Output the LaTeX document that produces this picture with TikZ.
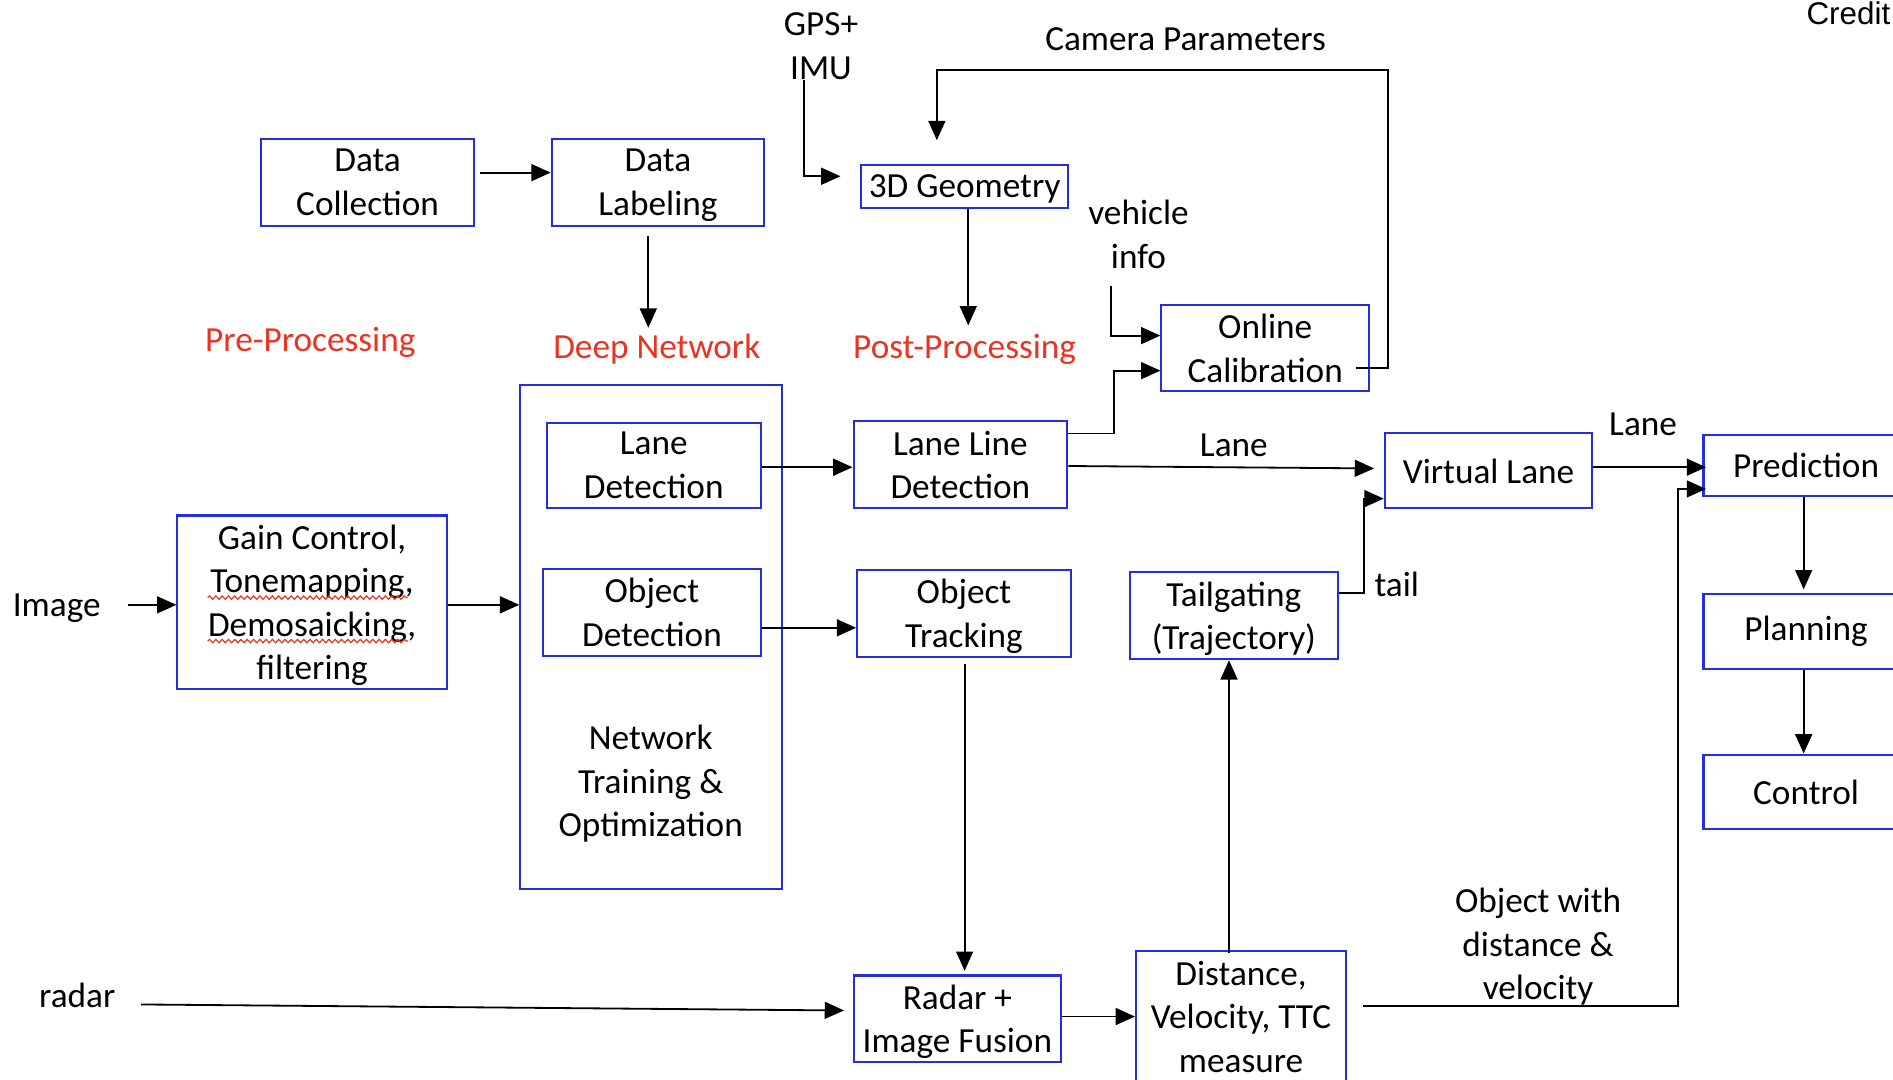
\documentclass[tikz,border=0pt]{standalone}
\usepackage{fontspec}
\setmainfont{Carlito}
\newfontfamily\arialf{Liberation Sans}
\usetikzlibrary{arrows.meta,calc,decorations.pathmorphing}
\definecolor{boxblue}{RGB}{35,45,225}
\definecolor{capred}{RGB}{234,51,35}
\begin{document}
\begin{tikzpicture}[x=0.5pt,y=-0.5pt,
  every node/.style={font=\fontsize{14.6pt}{18pt}\selectfont, align=center, inner sep=0pt, text depth=0pt},
  box/.style={draw=boxblue, line width=0.85pt},
  redlbl/.style={text=capred},
  arr/.style={draw=black, line width=0.75pt, -{Triangle[length=8pt,width=7pt]}},
  wavy/.style={draw=capred, line width=0.5pt, decorate, decoration={snake, amplitude=0.7pt, segment length=2.6pt}}]
\useasboundingbox (0,0) rectangle (1568,894);

% boxes
\node[box, minimum width=88.5pt, minimum height=36pt] (dc) at (304.5,151) {Data\\Collection};
\node[box, minimum width=88pt, minimum height=36pt] (dl) at (545,151) {Data\\Labeling};
\node[box, minimum width=86pt, minimum height=17.5pt] (geo) at (799,154.5) {3D Geometry};
\node[box, minimum width=86pt, minimum height=35.5pt] (oc) at (1048,288.5) {Online\\Calibration};
\node[box, minimum width=88.5pt, minimum height=36pt] (ll) at (795.5,385) {Lane Line\\Detection};
\node[box, minimum width=86pt, minimum height=31pt] (vl) at (1233,390) {Virtual Lane};
\node[box, minimum width=86pt, minimum height=36pt] (tg) at (1022,510) {Tailgating\\(Trajectory)};
\node[box, minimum width=85pt, minimum height=25.5pt] (pred) at (1496,385.5) {Prediction};
\node[box, minimum width=85pt, minimum height=31pt, text depth=2.9pt] (plan) at (1496,523) {Planning};
\node[box, minimum width=85pt, minimum height=31pt] (ctrl) at (1496,656) {Control};
\node[box, minimum width=108.5pt, minimum height=208.5pt] (dn) at (539.5,527.5) {};
\node[box, minimum width=88.5pt, minimum height=35.5pt] (lane) at (541.5,385.5) {Lane\\Detection};
\node[box, minimum width=90pt, minimum height=36pt] (obj) at (540,507) {Object\\Detection};
\node[box, minimum width=88.5pt, minimum height=36pt] (trk) at (798.5,508) {Object\\Tracking};
\node[box, minimum width=111.5pt, minimum height=72pt] (gain) at (258.5,499) {Gain Control,\\Tonemapping,\\Demosaicking,\\filtering};
\node[box, minimum width=86pt, minimum height=36pt] (fus) at (793,844) {Radar +\\Image Fusion};
\node[box, minimum width=87pt, minimum height=54pt] (dist) at (1028,842) {Distance,\\Velocity, TTC\\measure};
\node (ntxt) at (539,647) {Network\\Training \&\\Optimization};

% labels
\node[redlbl] (pre) at (257,281) {Pre-Processing};
\node[redlbl] (deep) at (544,287) {Deep Network};
\node[redlbl] (post) at (799,287) {Post-Processing};
\node (gps) at (680,38) {GPS+\\IMU};
\node (cam) at (982,32) {Camera Parameters};
\node (veh) at (943,194) {vehicle\\info};
\node (lanelbl) at (1022,369) {Lane};
\node (lanelbltwo) at (1361,351) {Lane};
\node (taillbl) at (1157,484) {tail};
\node (owd) at (1274,782) {Object with\\distance \&\\velocity};
\node (image) at (47,501) {Image};
\node (radar) at (64,824) {radar};
\node[anchor=west, font=\arialf\fontsize{13pt}{15pt}\selectfont] (credit) at (1496,11) {Credit};

% spell-check underlines
\draw[wavy] (172,495) -- (338,495);
\draw[wavy] (172,531) -- (338,531);

% connectors
\draw[arr] ($(dc.east |- 0,143)+(4,0)$) -- (dl.west |- 0,143);
\draw[arr] ($(dl.south -| 537,0)+(0,8)$) -- ($(deep.north -| 537,0)+(0,-5)$);
\draw[arr] (gps.south -| 666,0) |- ($(geo.west |- 0,146)+(-16,0)$);
\draw[arr] ($(oc.east |- 0,305)+(-12,0)$) -| (1150,58) -| ($(geo.north -| 776,0)+(0,-20)$);
\draw[arr] (geo.south -| 802,0) -- ($(post.north -| 802,0)+(0,-7)$);
\draw[arr] ($(veh.south -| 920,0)+(0,14)$) |- (oc.west |- 0,278);
\draw[arr] (ll.east |- 0,359) -| (923,307) -- (oc.west |- 0,307);
\draw[arr] (ll.east |- 0,386) -- ($(vl.west |- 0,388)+(-8,0)$);
\draw[arr] (tg.east |- 0,491) -| (1130,413) -- (vl.west |- 0,413);
\draw[arr] (vl.east |- 0,387) -- ($(pred.west |- 0,387)+(3,0)$);
\draw[arr] ($(dist.east |- 0,833)+(13,0)$) -| (1390,405) -- ($(pred.west |- 0,405)+(3,0)$);
\draw[arr] (pred.south -| 1494,0) -- ($(plan.north -| 1494,0)+(0,-3)$);
\draw[arr] (plan.south -| 1494,0) -- (ctrl.north -| 1494,0);
\draw[arr] (lane.east |- 0,387) -- (ll.west |- 0,387);
\draw[arr] (obj.east |- 0,520) -- (trk.west |- 0,520);
\draw[arr] ($(trk.south -| 799,0)+(0,5)$) -- ($(fus.north -| 799,0)+(0,-3)$);
\draw[arr] ($(image.east)+(22,0)$) -- (gain.west |- 0,501);
\draw[arr] (gain.east |- 0,501) -- (dn.west |- 0,501);
\draw[arr] ($(radar.east)+(21,8)$) -- ($(fus.west |- 0,837)+(-7,0)$);
\draw[arr] (fus.east |- 0,842) -- (dist.west |- 0,842);
\draw[arr] ($(dist.north -| 1018,0)+(0,2)$) -- (tg.south -| 1018,0);
\end{tikzpicture}
\end{document}
